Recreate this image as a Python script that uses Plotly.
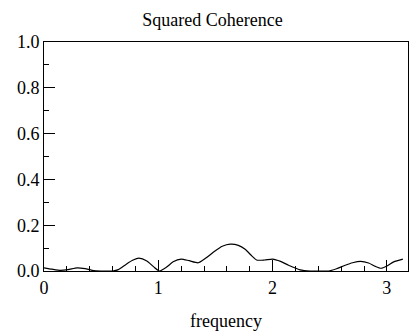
import plotly.graph_objects as go

freq = [0.0, 0.07, 0.14, 0.21, 0.29, 0.36, 0.42, 0.5, 0.6, 0.65, 0.72, 0.78, 0.83, 0.9, 0.96, 1.01, 1.07, 1.13, 1.2, 1.27, 1.35, 1.42, 1.49, 1.56, 1.63, 1.7, 1.76, 1.82, 1.86, 1.93, 2.0, 2.07, 2.14, 2.24, 2.33, 2.42, 2.49, 2.56, 2.63, 2.7, 2.77, 2.84, 2.9, 2.95, 3.0, 3.06, 3.14]
coh = [0.014, 0.008, 0.003, 0.006, 0.014, 0.01, 0.003, 0.0, 0.0, 0.006, 0.03, 0.048, 0.056, 0.044, 0.018, 0.0, 0.016, 0.04, 0.052, 0.045, 0.036, 0.058, 0.085, 0.108, 0.117, 0.112, 0.095, 0.065, 0.048, 0.048, 0.052, 0.042, 0.025, 0.005, 0.0, 0.0, 0.0, 0.01, 0.024, 0.036, 0.042, 0.035, 0.02, 0.012, 0.022, 0.04, 0.052]

x_ticks = [0, 1, 2, 3]
y_ticks = [0.0, 0.2, 0.4, 0.6, 0.8, 1.0]
y_labels = ["0.0", "0.2", "0.4", "0.6", "0.8", "1.0"]

font_family = "Liberation Serif, Times New Roman, serif"

fig = go.Figure(go.Scatter(x=freq, y=coh, mode="lines", line=dict(color="black", width=1.2, shape="spline", smoothing=0.6)))

# the page body adds an 8px offset, so the figure is 8px smaller in each direction
fig.update_layout(
    width=409, height=326,
    margin=dict(l=36, r=9, t=34, b=63, autoexpand=False),
    paper_bgcolor="white", plot_bgcolor="white",
    showlegend=False,
    font=dict(family=font_family, color="black", size=17),
    title=dict(text="Squared Coherence", x=0.5, xanchor="center", y=0.963, yanchor="middle",
               font=dict(family=font_family, size=18, color="black"), automargin=False),
)
fig.update_xaxes(
    range=[0, 3.185], tickvals=x_ticks, ticktext=[str(v) for v in x_ticks],
    ticks="inside", ticklen=11, tickcolor="black", tickwidth=1,
    minor=dict(dtick=0.2, tick0=0, ticks="inside", ticklen=5, tickcolor="black", tickwidth=1),
    showline=True, linecolor="black", linewidth=1, mirror=True,
    showgrid=False, zeroline=False, automargin=False,
    title=dict(text="frequency", font=dict(family=font_family, size=18), standoff=17),
    tickfont=dict(family=font_family, size=18),
)
fig.update_yaxes(
    range=[0, 1.0], tickvals=y_ticks, ticktext=y_labels,
    ticks="inside", ticklen=11, tickcolor="black", tickwidth=1,
    minor=dict(dtick=0.1, tick0=0, ticks="inside", ticklen=5, tickcolor="black", tickwidth=1),
    showline=True, linecolor="black", linewidth=1, mirror=True,
    showgrid=False, zeroline=False, automargin=False,
    tickfont=dict(family=font_family, size=18),
)

fig.write_html("out.html")
